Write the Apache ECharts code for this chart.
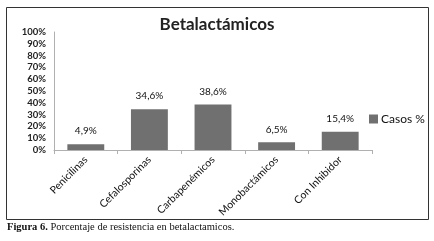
<!DOCTYPE html>
<html>
<head>
<meta charset="utf-8">
<script src="https://cdn.jsdelivr.net/npm/echarts@6/dist/echarts.min.js"></script>
<style>
  html, body { margin: 0; padding: 0; background: #fff; }
  #chart { width: 434px; height: 241px; }
</style>
</head>
<body>
<div id="chart"></div>
<script>
// datos
const categories = ["Penicilinas", "Cefalosporinas", "Carbapenémicos", "Monobactámicos", "Con Inhibidor"];
const casos = [4.9, 34.6, 38.6, 6.5, 15.4];
const seriesName = "Casos %";
const titleText = "Betalactámicos";

const chart = echarts.init(document.getElementById("chart"));

// formato con coma decimal
const fmt = (v) => v.toFixed(1).replace(".", ",") + "%";

const option = {
  animation: false,
  textStyle: { fontFamily: "Lato" },
  title: {
    text: titleText,
    left: "center",
    top: 11,
    textStyle: { fontFamily: "Lato", fontSize: 17, fontWeight: "bold", color: "#222" },
  },
  legend: {
    data: [seriesName],
    left: 364,
    top: 108,
    icon: "rect",
    itemWidth: 9,
    itemHeight: 9,
    itemGap: 4,
    textStyle: { fontFamily: "Lato", fontSize: 12, color: "#111", padding: [0, 0, 0, -2] },
  },
  grid: {
    left: 54,
    right: 62,
    top: 32,
    bottom: 91,
    containLabel: false,
  },
  xAxis: {
    type: "category",
    data: categories,
    axisLine: { lineStyle: { color: "#b0b0b0", width: 1 } },
    axisTick: { show: true, length: 4, lineStyle: { color: "#b0b0b0" } },
    axisLabel: {
      rotate: 45,
      margin: 8,
      interval: 0,
      fontFamily: "Lato",
      fontSize: 10.5,
      color: "#111",
    },
  },
  yAxis: {
    type: "value",
    min: 0,
    max: 100,
    interval: 10,
    axisLine: { show: true, lineStyle: { color: "#b0b0b0", width: 1 } },
    axisTick: { show: false },
    splitLine: { show: false },
    axisLabel: {
      margin: 8,
      fontFamily: "Lato",
      fontSize: 9.5,
      fontWeight: "bold",
      color: "#222",
      formatter: (v) => v + "%",
    },
  },
  series: [
    {
      name: seriesName,
      type: "bar",
      data: casos,
      barCategoryGap: "42%",
      itemStyle: { color: "#707070" },
      label: {
        show: true,
        position: "top",
        distance: 8,
        fontFamily: "Lato",
        fontSize: 10,
        color: "#111",
        formatter: (p) => fmt(p.value),
      },
    },
  ],
  graphic: [
    {
      type: "rect",
      shape: { x: 6.5, y: 7.5, width: 422, height: 212 },
      style: { fill: "none", stroke: "#333", lineWidth: 1 },
      silent: true,
    },
    {
      type: "text",
      left: 7,
      top: 222,
      style: {
        rich: {
          b: { fontFamily: "Liberation Serif", fontSize: 10.5, fontWeight: "bold", fill: "#111" },
          n: { fontFamily: "Liberation Serif", fontSize: 10.5, fill: "#111" },
        },
        text: "{b|Figura 6.}{n| Porcentaje de resistencia en betalactamicos.}",
      },
    },
  ],
};

chart.setOption(option);
</script>
</body>
</html>
